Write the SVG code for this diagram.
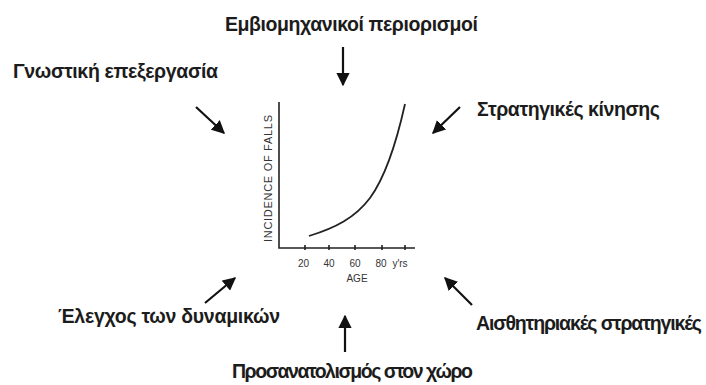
<svg xmlns="http://www.w3.org/2000/svg" width="706" height="385" viewBox="0 0 706 385">
<style>
.lbl{font-family:"Liberation Sans",Arial,sans-serif;font-weight:bold;font-size:19.5px;fill:#1c1c1c}
.ax{stroke:#222;stroke-width:1.6;fill:none}
.tk{font-family:"Liberation Sans",Arial,sans-serif;font-size:10px;fill:#333}
.arr{stroke:#111;stroke-width:2.2;fill:none;marker-end:url(#ah)}
</style>
<defs>
<marker id="ah" viewBox="0 0 10 10" refX="9" refY="5" markerWidth="6" markerHeight="6" orient="auto" markerUnits="strokeWidth">
<path d="M0,0 L10,5 L0,10 z" fill="#111"/>
</marker>
</defs>
<rect width="706" height="385" fill="#fff"/>
<g id="chart">
<path class="ax" d="M279,102 L279,248 L415,248"/>
<path class="ax" d="M305,245 V250 M329,245 V250 M355,245 V250 M382,245 V250 M405,245 V250"/>
<path d="M309,236 C335,228 355,218 370,198 C386,176 397,140 405,104" stroke="#222" stroke-width="1.8" fill="none"/>
<text class="tk" style="font-size:11px" transform="translate(271.5,178.5) rotate(-90)" text-anchor="middle" textLength="127">INCIDENCE OF FALLS</text>
<text class="tk" x="303.5" y="267" text-anchor="middle">20</text>
<text class="tk" x="329" y="267" text-anchor="middle">40</text>
<text class="tk" x="355" y="267" text-anchor="middle">60</text>
<text class="tk" x="381" y="267" text-anchor="middle">80</text>
<text class="tk" x="400" y="267" text-anchor="middle">y'rs</text>
<text class="tk" x="357" y="282" text-anchor="middle">AGE</text>
</g>
<g id="n-biomech"><text class="lbl" x="225" y="31" textLength="253">Εμβιομηχανικοί περιορισμοί</text></g>
<g id="n-cognitive"><text class="lbl" x="13" y="78" textLength="205">Γνωστική επεξεργασία</text></g>
<g id="n-movement"><text class="lbl" x="477" y="116" textLength="183">Στρατηγικές κίνησης</text></g>
<g id="n-dynamics"><text class="lbl" x="58" y="323" textLength="222">Έλεγχος των δυναμικών</text></g>
<g id="n-sensory"><text class="lbl" x="476" y="330" textLength="226">Αισθητηριακές στρατηγικές</text></g>
<g id="n-orientation"><text class="lbl" x="232" y="378" textLength="241">Προσανατολισμός στον χώρο</text></g>
<g id="connectors">
<line class="arr" x1="343" y1="47" x2="343" y2="85"/>
<line class="arr" x1="196" y1="107" x2="224" y2="133"/>
<line class="arr" x1="460" y1="107" x2="433" y2="133"/>
<line class="arr" x1="205" y1="303" x2="235" y2="278"/>
<line class="arr" x1="472" y1="305" x2="445" y2="278"/>
<line class="arr" x1="345" y1="352" x2="345" y2="316"/>
</g>
</svg>
